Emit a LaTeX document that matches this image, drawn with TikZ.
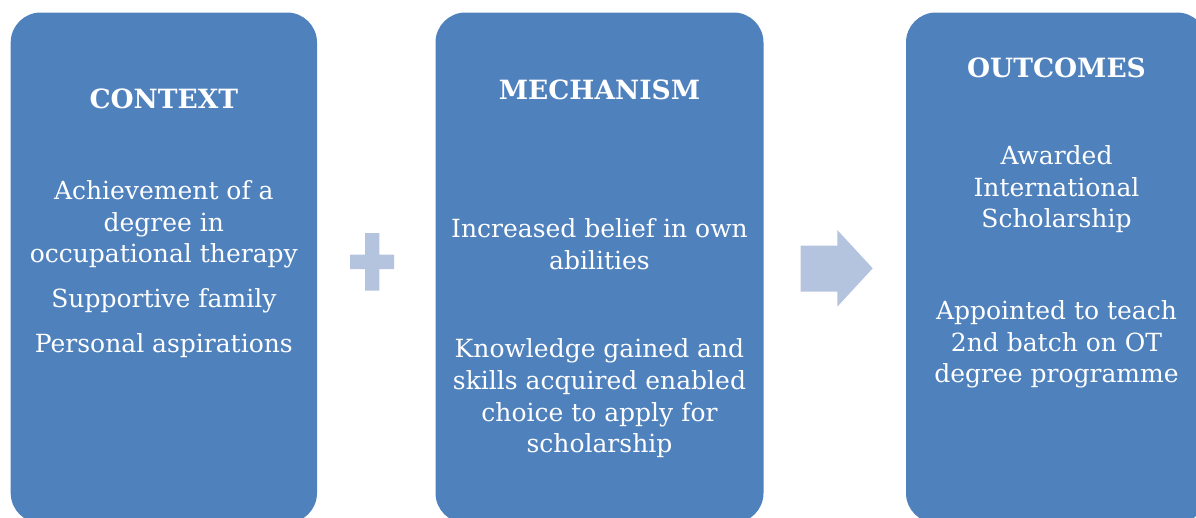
\documentclass[tikz,border=0pt]{standalone}
\usepackage{fontspec}
\setmainfont{DejaVu Serif}
\usepackage{tikz}
\usetikzlibrary{positioning}

\definecolor{boxblue}{HTML}{4F81BD}
\definecolor{signblue}{HTML}{B4C3DE}

\begin{document}
\begin{tikzpicture}[x=1pt,y=-1pt]
\tikzstyle{panel}=[rectangle, rounded corners=30pt, fill=boxblue, draw=none, inner sep=0pt, minimum height=510.5pt]
\tikzstyle{heading}=[text=white, font=\fontsize{26.5}{31}\selectfont\bfseries, inner sep=0pt]
\tikzstyle{body}=[text=white, font=\fontsize{25}{31.7}\selectfont, align=center, inner sep=0pt]
\tikzstyle{sign}=[fill=signblue, draw=none]

\useasboundingbox (0,0) rectangle (1196,517);
\begin{scope}
\clip (0,0) rectangle (1196,517);

  \node[panel, minimum width=306.3pt] (ctxbox) at (163.85,267.75) {};
  \node[panel, minimum width=328pt] (mechbox) at (599.5,267.75) {};
  \node[panel, minimum width=301pt] (outbox) at (1056.5,267.75) {};

  % base of a multi-line node = baseline of its last line
  \node[heading, below=96.5pt of ctxbox.north, anchor=base] (context) {CONTEXT};
  \node[body, below=340.5pt of ctxbox.north, anchor=base] (contexttext)
    {Achievement of a\\degree in\\occupational therapy\\[13.3pt]Supportive family\\[13.3pt]Personal aspirations};

  \node[heading, below=87.5pt of mechbox.north, anchor=base] (mechanism) {MECHANISM};
  \node[body, below=440.5pt of mechbox.north, anchor=base] (mechanismtext)
    {Increased belief in own\\abilities\\[57pt]Knowledge gained and\\skills acquired enabled\\choice to apply for\\scholarship};

  \node[heading, below=64.8pt of outbox.north, anchor=base] (outcomes) {OUTCOMES};
  \node[body, below=370.5pt of outbox.north, anchor=base] (outcomestext)
    {Awarded\\International\\Scholarship\\[60pt]Appointed to teach\\2nd batch on OT\\degree programme};
\end{scope}

% plus sign
\fill[sign] (365,233) -- (379.3,233) -- (379.3,254.7) -- (394,254.7) -- (394,269) -- (379.3,269)
  -- (379.3,290.7) -- (365,290.7) -- (365,269) -- (350,269) -- (350,254.7) -- (365,254.7) -- cycle;

% block arrow
\fill[sign] (800.7,245.7) -- (837.3,245.7) -- (837.3,230) -- (872.7,268.3) -- (837.3,306.7)
  -- (837.3,291.7) -- (800.7,291.7) -- cycle;
\end{tikzpicture}
\end{document}
